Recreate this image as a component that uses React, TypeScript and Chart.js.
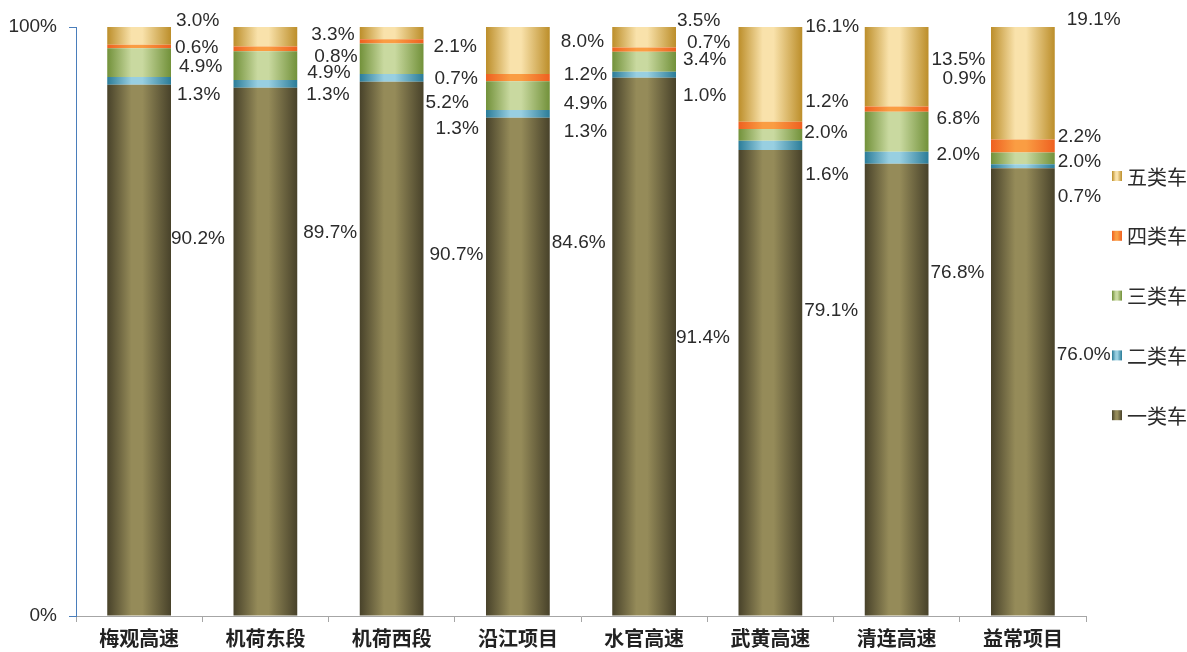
import React, { useEffect, useRef } from "react";
import { Chart, registerables } from "chart.js";

Chart.register(...registerables);

// ---------- data ----------
const categories = ["梅观高速", "机荷东段", "机荷西段", "沿江项目", "水官高速", "武黄高速", "清连高速", "益常项目"];
const seriesNames = ["一类车", "二类车", "三类车", "四类车", "五类车"];
const class1 = [90.2, 89.7, 90.7, 84.6, 91.4, 79.1, 76.8, 76.0];
const class2 = [1.3, 1.3, 1.3, 1.3, 1.0, 1.6, 2.0, 0.7];
const class3 = [4.9, 4.9, 5.2, 4.9, 3.4, 2.0, 6.8, 2.0];
const class4 = [0.6, 0.8, 0.7, 1.2, 0.7, 1.2, 0.9, 2.2];
const class5 = [3.0, 3.3, 2.1, 8.0, 3.5, 16.1, 13.5, 19.1];
const yTickValues = [0, 100];

// label nudges: vertical in value units (from segment centre), horizontal in px (from bar right edge)
const labelDy1 = [18.9, 20.2, 15.9, 21.0, 1.5, 12.2, 19.8, 6.3];
const labelDy2 = [-2.4, -1.9, -8.6, -3.0, -3.6, -5.0, 0.5, -5.2];
const labelDy3 = [-0.7, -1.3, -7.5, -1.3, 0.4, 0.4, 2.2, -0.6];
const labelDy4 = [-0.2, -1.3, -6.3, 0.5, 1.1, 4.0, 5.2, 1.6];
const labelDy5 = [2.5, 0.3, -2.3, 1.5, 2.8, 8.1, 1.2, 10.7];
const labelDx1 = [0, 6, 6, 2, 0, 2, 2, 2];
const labelDx2 = [6, 9, 12, 14, 7, 3, 8, 3];
const labelDx3 = [8, 10, 2, 14, 7, 2, 8, 3];
const labelDx4 = [4, 17, 11, 14, 11, 3, 14, 3];
const labelDx5 = [5, 14, 10, 11, 1, 3, 3, 12];

// ---------- styles ----------
const gradStops: [string, string][] = [
  ["#48422a", "#958b59"],
  ["#2b7c98", "#98cfe1"],
  ["#72913a", "#c9d9a0"],
  ["#ee6020", "#fa9d43"],
  ["#bc8e2a", "#f9e2ab"],
];
const BAR_PCT = 0.505;
const LABEL_FONT = "19px 'Liberation Sans', Arial, sans-serif";
const CJK = "'Noto Sans CJK SC', 'Noto Sans', sans-serif";

function makeGradient(c: CanvasRenderingContext2D, x0: number, x1: number, di: number) {
  const [dark, light] = gradStops[di];
  const g = c.createLinearGradient(x0, 0, x1, 0);
  g.addColorStop(0, dark);
  g.addColorStop(0.38, light);
  g.addColorStop(0.55, light);
  g.addColorStop(1, dark);
  return g;
}

export default function App() {
  const canvasRef = useRef<HTMLCanvasElement | null>(null);

  useEffect(() => {
    if (!canvasRef.current) return;
    const seriesData = [class1, class2, class3, class4, class5];
    const dys = [labelDy1, labelDy2, labelDy3, labelDy4, labelDy5];
    const dxs = [labelDx1, labelDx2, labelDx3, labelDx4, labelDx5];

    const bg = (di: number) => (ctx: any) => {
      const chart = ctx.chart;
      const xs = chart.scales?.x;
      if (!xs || ctx.type !== "data") return gradStops[di][1];
      const cx = xs.getPixelForValue(ctx.dataIndex);
      const w = (xs.width / categories.length) * BAR_PCT;
      if (!isFinite(cx) || !isFinite(w) || w <= 0) return gradStops[di][1];
      return makeGradient(chart.ctx, cx - w / 2, cx + w / 2, di);
    };

    const labelsPlugin = {
      id: "segLabels",
      afterDatasetsDraw(chart: any) {
        const c: CanvasRenderingContext2D = chart.ctx;
        const ys = chart.scales.y;
        c.save();
        c.font = LABEL_FONT;
        c.fillStyle = "#2b2b2b";
        c.textAlign = "left";
        c.textBaseline = "middle";
        seriesData.forEach((arr, di) => {
          const meta = chart.getDatasetMeta(di);
          arr.forEach((v, i) => {
            const el = meta.data[i];
            let below = 0;
            for (let k = 0; k < di; k++) below += seriesData[k][i];
            const yv = below + v / 2 + dys[di][i];
            const y = ys.getPixelForValue(yv);
            const x = el.x + el.width / 2 + dxs[di][i];
            c.fillText(v.toFixed(1) + "%", x, y);
          });
        });
        c.restore();
      },
    };

    const legendPlugin = {
      id: "sideLegend",
      afterDraw(chart: any) {
        const c: CanvasRenderingContext2D = chart.ctx;
        const area = chart.chartArea;
        const boxX = area.right + 26;
        const firstY = area.top + 149;
        const step = 59.8;
        c.save();
        c.font = `20px ${CJK}`;
        c.textBaseline = "middle";
        c.textAlign = "left";
        for (let k = 0; k < seriesNames.length; k++) {
          const di = seriesNames.length - 1 - k;
          const y = firstY + k * step;
          c.fillStyle = makeGradient(c, boxX, boxX + 10, di);
          c.fillRect(boxX, y - 5, 10, 10);
          c.fillStyle = "#2b2b2b";
          c.fillText(seriesNames[di], boxX + 15, y + 1);
        }
        c.restore();
      },
    };

    const chart = new Chart(canvasRef.current, {
      type: "bar",
      data: {
        labels: categories,
        datasets: seriesData.map((arr, di) => ({
          label: seriesNames[di],
          data: arr,
          backgroundColor: bg(di),
          borderWidth: 0,
          categoryPercentage: 1,
          barPercentage: BAR_PCT,
        })),
      },
      options: {
        responsive: false,
        animation: false,
        layout: { padding: { top: 27, right: 101, left: 0, bottom: 0 } },
        plugins: {
          legend: { display: false },
          tooltip: { enabled: false },
        },
        scales: {
          x: {
            stacked: true,
            grid: {
              display: true,
              drawOnChartArea: false,
              drawTicks: true,
              tickLength: 6,
              color: "#a6a6a6",
              offset: true,
            },
            border: { display: true, color: "#a6a6a6", width: 1 },
            ticks: {
              color: "#222222",
              font: { family: CJK, size: 20, weight: "bold" },
              padding: 4,
              maxRotation: 0,
              autoSkip: false,
            },
            afterFit: (s: any) => {
              s.height = 36;
            },
          },
          y: {
            stacked: true,
            min: 0,
            max: 100,
            grid: {
              display: true,
              drawOnChartArea: false,
              drawTicks: true,
              tickLength: 7,
              color: "#4a7ebb",
            },
            border: { display: true, color: "#4a7ebb", width: 1 },
            ticks: {
              color: "#2b2b2b",
              font: { family: "'Liberation Sans', Arial, sans-serif", size: 19 },
              padding: 12,
              callback: (v: any) => v + "%",
            },
            afterBuildTicks: (s: any) => {
              s.ticks = yTickValues.map((v) => ({ value: v }));
            },
            afterFit: (s: any) => {
              s.width = 76;
            },
          },
        },
      },
      plugins: [labelsPlugin, legendPlugin],
    });
    return () => chart.destroy();
  }, []);

  return (
    <div style={{ position: "absolute", left: 0, top: 0, width: 1187, height: 652, background: "#fff" }}>
      <canvas ref={canvasRef} width={1187} height={652} style={{ display: "block" }} />
    </div>
  );
}
